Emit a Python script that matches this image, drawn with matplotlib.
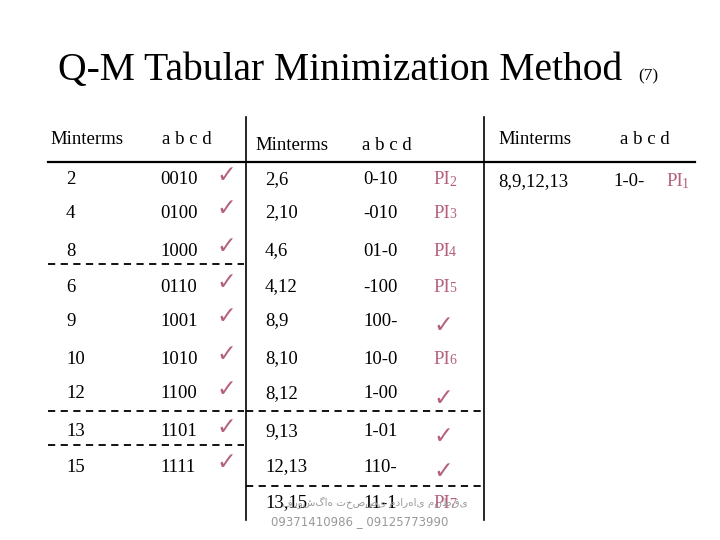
import matplotlib.pyplot as plt

plt.rcParams['font.family'] = ['Liberation Serif', 'DejaVu Serif']

# column 1: single minterms
m1 = ['2', '4', '8', '6', '9', '10', '12', '13', '15']
b1 = ['0010', '0100', '1000', '0110', '1001', '1010', '1100', '1101', '1111']
y1 = [180, 213, 251, 287, 321, 359, 394, 432, 467]

# column 2: pairs
m2 = ['2,6', '2,10', '4,6', '4,12', '8,9', '8,10', '8,12', '9,13', '12,13', '13,15']
b2 = ['0-10', '-010', '01-0', '-100', '100-', '10-0', '1-00', '1-01', '110-', '11-1']
y2 = [180, 213, 251, 287, 321, 359, 394, 432, 467, 503]
tag2 = ['2', '3', '4', '5', None, '6', None, None, None, '7']  # PI number or check

# column 3: quads
m3 = ['8,9,12,13']
b3 = ['1-0-']
tag3 = ['1']

PINK = '#b5607e'
fig = plt.figure(figsize=(7.2, 5.4), dpi=100)
ax = fig.add_axes([0, 0, 1, 1])
ax.set_xlim(0, 720)
ax.set_ylim(540, 0)
ax.axis('off')

ax.text(58, 70, 'Q-M Tabular Minimization Method', fontsize=28.5, va='center')
ax.text(638, 76, '(7)', fontsize=12.5, va='center')

fs = 13.5
def pi(x, y, n):
    ax.text(x, y, 'PI', fontsize=fs, color=PINK, va='center')
    ax.text(x + 16, y + 2, n, fontsize=10, color=PINK, va='center')

def check(x, y):
    ax.text(x, y, '\u2713', fontsize=17, color=PINK, va='center', ha='center',
            family='DejaVu Sans')

# headers
ax.text(50, 140, 'Minterms', fontsize=fs, va='center')
ax.text(162, 139, 'a b c d', fontsize=fs, va='center')
ax.text(255, 145, 'Minterms', fontsize=fs, va='center')
ax.text(362, 146, 'a b c d', fontsize=fs, va='center')
ax.text(498, 139, 'Minterms', fontsize=fs, va='center')
ax.text(620, 139, 'a b c d', fontsize=fs, va='center')

for m, b, y in zip(m1, b1, y1):
    ax.text(66, y, m, fontsize=fs, va='center')
    ax.text(160, y, b, fontsize=fs, va='center')
    check(226, y - 5)

for m, b, t, y in zip(m2, b2, tag2, y2):
    ax.text(265, y, m, fontsize=fs, va='center')
    ax.text(363, y, b, fontsize=fs, va='center')
    if t is None:
        check(443, y + 4)
    else:
        pi(433, y, t)

for m, b, t in zip(m3, b3, tag3):
    ax.text(498, 182, m, fontsize=fs, va='center')
    ax.text(613, 182, b, fontsize=fs, va='center')
    pi(666, 182, t)

# rules
ax.plot([48, 695], [162, 162], color='black', lw=1.6)
ax.plot([246, 246], [117, 520], color='black', lw=1.2)
ax.plot([484, 484], [117, 520], color='black', lw=1.2)
for y in [264, 411, 445]:
    ax.plot([48, 244], [y, y], color='black', lw=1.3, ls=(0, (4, 3)))
for y in [411, 486]:
    ax.plot([246, 484], [y, y], color='black', lw=1.3, ls=(0, (4, 3)))

# watermark
ax.text(375, 503, 'فروشگاه تخصصی مدارهای منطقی', fontsize=7.5, color='#999999',
        ha='center', va='center', family=['DejaVu Sans'])
ax.text(360, 522, '09371410986 _ 09125773990', fontsize=8.5, color='#999999',
        ha='center', va='center', family='DejaVu Sans')

fig.savefig('out.png', dpi=100)
